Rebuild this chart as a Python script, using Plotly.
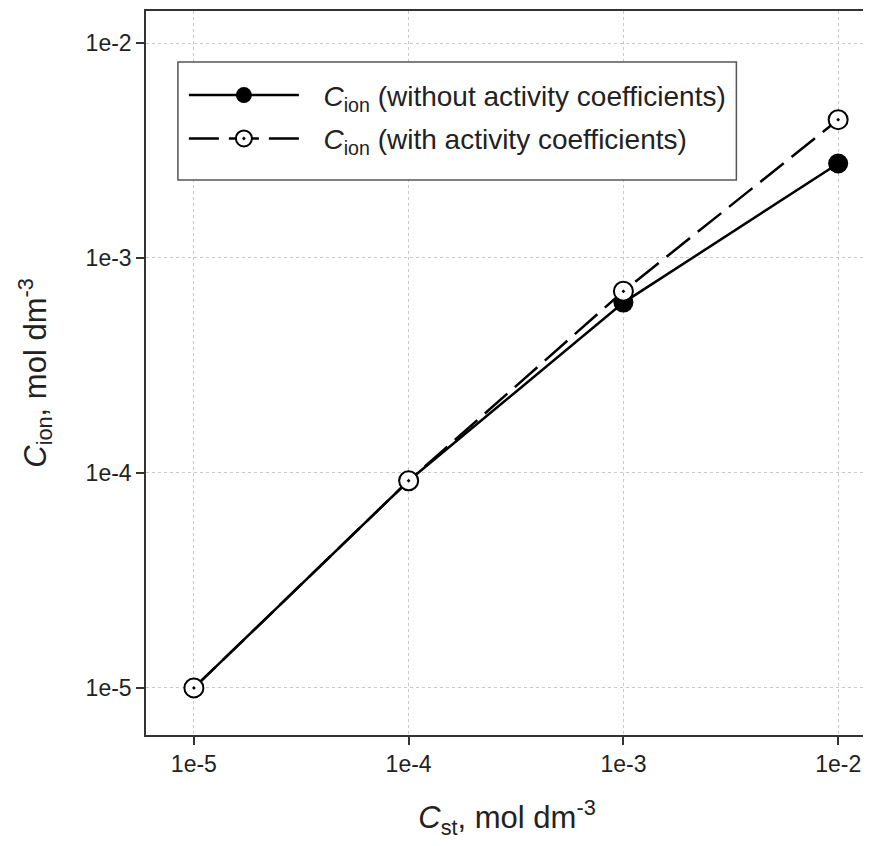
import plotly.graph_objects as go

c_st = [1e-5, 1e-4, 1e-3, 1e-2]
c_ion_without = [1.0e-5, 9.2e-5, 6.2e-4, 2.75e-3]
c_ion_with = [1.0e-5, 9.2e-5, 7.0e-4, 4.4e-3]
tick_vals = [1e-5, 1e-4, 1e-3, 1e-2]
tick_text = ["1e-5", "1e-4", "1e-3", "1e-2"]

FONT = "Liberation Sans, Arial"

fig = go.Figure()
fig.add_trace(go.Scatter(
    x=c_st, y=c_ion_without, mode="lines+markers",
    name="\u2002\u2009<i>C</i><sub>ion</sub> (without activity coefficients)",
    legendgroup="a",
    line=dict(color="black", width=2.5),
    marker=dict(symbol="circle", size=20, color="black"),
))
fig.add_trace(go.Scatter(
    x=c_st, y=c_ion_with, mode="lines+markers",
    name="\u2002\u2009<i>C</i><sub>ion</sub> (with activity coefficients)",
    legendgroup="b",
    line=dict(color="black", width=2.5, dash="30px,10px"),
    marker=dict(symbol="circle-dot", size=19, color="white",
                line=dict(color="black", width=2)),
))

axis_common = dict(
    type="log",
    tickvals=tick_vals, ticktext=tick_text,
    showline=True, linecolor="#333", linewidth=1.5, mirror=True,
    ticks="outside", ticklen=8, tickwidth=1.5, tickcolor="#333",
    showgrid=True, gridcolor="#c8c8c8", gridwidth=1, griddash="dot",
    zeroline=False,
    tickfont=dict(family=FONT, size=23, color="#222"),
)

fig.update_layout(
    width=863, height=838,
    margin=dict(l=138, r=1, t=3, b=111),
    plot_bgcolor="white", paper_bgcolor="white",
    xaxis=dict(axis_common, range=[-5.223, -1.861],
               title=dict(text="<i>C</i><sub>st</sub>, mol dm<sup>-3</sup>",
                          font=dict(family=FONT, size=31, color="#222"),
                          standoff=30)),
    yaxis=dict(axis_common, range=[-5.219, -1.851],
               title=dict(text="<i>C</i><sub>ion</sub>, mol dm<sup>-3</sup>",
                          font=dict(family=FONT, size=31, color="#222"),
                          standoff=30)),
    shapes=[dict(type="rect", xref="paper", yref="paper",
                 x0=0.0442, x1=0.8177, y0=0.7666, y1=0.9296,
                 line=dict(color="#555", width=1.5), fillcolor="white",
                 layer="above")],
    legend=dict(
        x=0.0525, y=0.918, xanchor="left", yanchor="top",
        bgcolor="rgba(0,0,0,0)", borderwidth=0,
        font=dict(family=FONT, size=28, color="#222"),
        itemwidth=110, tracegroupgap=4,
    ),
    showlegend=True,
)

fig.write_html("out.html")
